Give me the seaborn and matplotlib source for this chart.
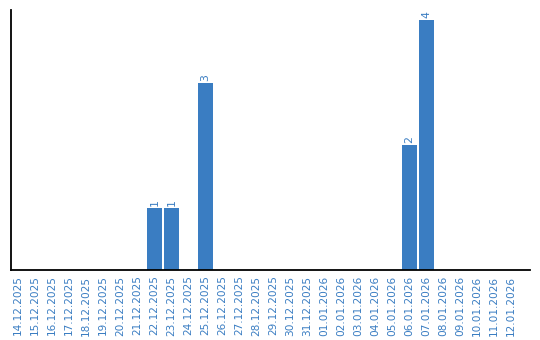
import matplotlib
matplotlib.use("Agg")
import matplotlib.pyplot as plt
import seaborn as sns
import pandas as pd

dates = ["14.12.2025", "15.12.2025", "16.12.2025", "17.12.2025", "18.12.2025",
         "19.12.2025", "20.12.2025", "21.12.2025", "22.12.2025", "23.12.2025",
         "24.12.2025", "25.12.2025", "26.12.2025", "27.12.2025", "28.12.2025",
         "29.12.2025", "30.12.2025", "31.12.2025", "01.01.2026", "02.01.2026",
         "03.01.2026", "04.01.2026", "05.01.2026", "06.01.2026", "07.01.2026",
         "08.01.2026", "09.01.2026", "10.01.2026", "11.01.2026", "12.01.2026"]
counts = [0, 0, 0, 0, 0, 0, 0, 0, 1, 1,
          0, 3, 0, 0, 0, 0, 0, 0, 0, 0,
          0, 0, 0, 2, 4, 0, 0, 0, 0, 0]

BLUE = "#3a7dc2"

sns.set_style("white")
plt.rcParams['font.family'] = ['DejaVu Sans']

df = pd.DataFrame({"date": dates, "count": counts})

fig = plt.figure(figsize=(5.4, 3.4), dpi=100)
ax = fig.add_axes([11/540, 70/340, 519/540, 260/340])
sns.barplot(data=df, x="date", y="count", color=BLUE, saturation=1,
            width=0.85, ax=ax, order=dates, linewidth=0)

for i, c in enumerate(counts):
    if c > 0:
        ax.text(i, c + 0.03, str(c), rotation=90, ha="center", va="bottom",
                color=BLUE, fontsize=7.8)

ax.set_xlim(-0.43, 30.1)
ax.set_ylim(0, 4.16)
ax.set_xlabel("")
ax.set_ylabel("")
ax.set_yticks([])
ax.tick_params(axis="x", length=0, pad=4, labelsize=7.6, labelcolor=BLUE)
for lbl in ax.get_xticklabels():
    lbl.set_rotation(90)
for s in ["top", "right"]:
    ax.spines[s].set_visible(False)
for s in ["left", "bottom"]:
    ax.spines[s].set_color("black")
    ax.spines[s].set_linewidth(1.3)

fig.savefig("out.png", dpi=100)
